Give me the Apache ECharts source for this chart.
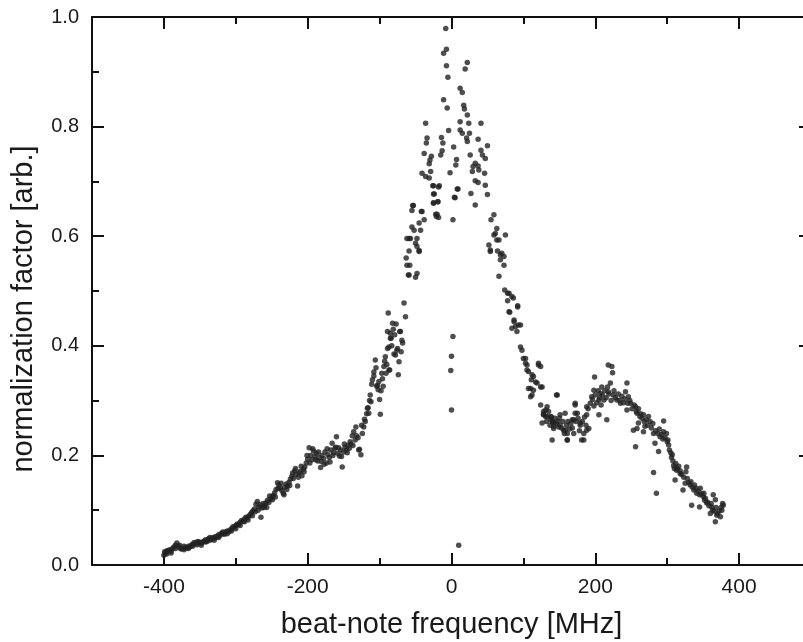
<!DOCTYPE html>
<html>
<head>
<meta charset="utf-8">
<script src="https://cdn.jsdelivr.net/npm/echarts@6/dist/echarts.min.js"></script>
<style>html,body{margin:0;padding:0;background:#fff;overflow:hidden;}#c{width:803px;height:642px;}</style>
</head>
<body>
<div id="c"></div>
<script>
// x tick labels / ticks
var xMajorTicks = [-400, -200, 0, 200, 400];
var xMinorTicks = [-300, -100, 100, 300];
var yTicks = [0, 0.2, 0.4, 0.6, 0.8, 1.0];

// left wing (beat-note frequency MHz, normalization factor)
var wingLeft = [
[-400,0.018],[-399,0.024],[-398,0.022],[-396,0.020],[-394,0.026],[-392,0.028],[-390,0.025],[-388,0.030],[-386,0.033],[-384,0.036],[-382,0.040],[-380,0.034],[-378,0.031],[-376,0.029],[-374,0.030],[-372,0.028],[-370,0.032],[-368,0.031],[-366,0.034],[-364,0.033],[-362,0.036],[-360,0.038],[-358,0.041],[-356,0.039],[-354,0.037],[-352,0.043],[-350,0.040],[-348,0.036],[-346,0.042],[-344,0.044],[-342,0.046],[-340,0.043],[-338,0.048],[-336,0.045],[-334,0.047],[-332,0.050],[-330,0.049],[-328,0.052],[-326,0.051],[-324,0.055],[-322,0.054],[-320,0.058],[-318,0.057],[-316,0.056],[-314,0.060],[-312,0.062],[-310,0.060],[-308,0.064],[-306,0.066],[-304,0.070],[-302,0.069],[-300,0.072],[-298,0.075],[-296,0.074],[-294,0.078],[-292,0.081],[-290,0.080],[-288,0.084],[-286,0.087],[-284,0.086],[-282,0.089],[-280,0.092],[-278,0.096],[-276,0.099],[-274,0.102],[-272,0.111],[-270,0.116],[-268,0.106],[-266,0.110],[-264,0.104],[-262,0.112],[-260,0.108],[-258,0.113],[-256,0.118],[-254,0.114],[-252,0.120],[-250,0.124],[-248,0.127],[-246,0.132],[-244,0.138],[-242,0.150],[-240,0.146],[-238,0.140],[-236,0.136],[-234,0.131],[-232,0.142],[-230,0.148],[-228,0.144],[-226,0.151],[-224,0.157],[-222,0.162],[-220,0.158],[-218,0.172],[-216,0.165],[-214,0.144],[-212,0.168],[-210,0.171],[-208,0.163],[-206,0.175],[-204,0.179],[-202,0.186],[-200,0.193],[-198,0.214],[-196,0.200],[-194,0.192],[-192,0.208],[-190,0.198],[-188,0.204],[-186,0.190],[-184,0.196],[-182,0.178],[-180,0.200],[-178,0.194],[-176,0.206],[-174,0.186],[-172,0.201],[-170,0.196],[-168,0.210],[-166,0.222],[-164,0.205],[-162,0.213],[-160,0.234],[-158,0.204],[-156,0.199],[-154,0.210],[-152,0.179],[-150,0.206],[-148,0.215],[-146,0.210],[-144,0.218],[-142,0.213],[-140,0.221],[-138,0.236],[-136,0.243],[-134,0.228],[-132,0.236],[-130,0.232],[-128,0.211],[-126,0.201],[-124,0.240],[-122,0.252],[-120,0.262],[-118,0.276],[-116,0.287],[-114,0.300],[-112,0.298],[-110,0.338],[-108,0.352],[-106,0.374],[-104,0.326],[-102,0.320],[-100,0.302],[-99,0.275],[-98,0.318],[-96,0.340],[-94,0.362],[-92,0.380],[-90,0.366],[-89,0.395],[-88,0.460],[-87,0.398],[-86,0.356],[-85,0.423],[-84,0.414],[-82,0.441],[-80,0.385],[-78,0.383],[-76,0.392],[-74,0.347],[-73,0.371],[-72,0.426],[-70,0.389],[-68,0.405],[-66,0.478],[-64,0.453]
];
var wingLeft2 = [
[-396,0.026],[-390,0.022],[-384,0.030],[-378,0.036],[-372,0.034],[-366,0.030],[-360,0.034],[-354,0.042],[-348,0.040],[-342,0.042],[-336,0.050],[-330,0.045],[-324,0.050],[-318,0.060],[-312,0.057],[-306,0.062],[-300,0.066],[-294,0.072],[-288,0.079],[-283,0.082],[-277,0.090],[-273,0.097],[-269,0.100],[-265,0.087],[-261,0.105],[-257,0.105],[-253,0.126],[-249,0.119],[-245,0.124],[-241,0.140],[-237,0.149],[-233,0.128],[-229,0.138],[-225,0.145],[-221,0.168],[-217,0.176],[-213,0.160],[-209,0.180],[-205,0.170],[-201,0.200],[-197,0.186],[-193,0.212],[-189,0.192],[-185,0.206],[-181,0.189],[-177,0.184],[-173,0.212],[-169,0.188],[-165,0.200],[-161,0.215],[-157,0.214],[-153,0.198],[-149,0.221],[-145,0.205],[-141,0.225],[-137,0.218],[-133,0.252],[-129,0.210],[-125,0.255],[-121,0.266],[-117,0.286],[-115,0.277],[-113,0.310],[-111,0.330],[-108,0.345],[-105,0.360],[-103,0.328],[-101,0.335],[-97,0.350],[-95,0.326],[-93,0.372],[-91,0.350],[-89,0.426],[-87,0.356],[-85,0.414],[-83,0.400],[-81,0.430],[-79,0.420],[-77,0.440],[-75,0.395],[-71,0.426],[-69,0.410]
];
// central peak
var peak = [
[-60,0.529],[-48,0.532],[-50,0.525],[-62,0.547],[-63,0.560],[-59,0.573],[-45,0.572],[-50,0.587],[-59,0.596],[-48,0.596],[-52,0.611],[-55,0.617],[-43,0.611],[-45,0.624],[-38,0.630],[-41,0.645],[-55,0.647],[-53,0.656],[-57,0.596],[-62,0.596],[-58,0.547],[-59,0.529],[-48,0.581],[-45,0.574],[-42,0.645],[-54,0.656],
[-8,0.979],[-7,0.941],[-11,0.934],[22,0.917],[19,0.905],[-7,0.911],[-5,0.890],[12,0.870],[15,0.862],[-11,0.849],[-6,0.834],[17,0.839],[18,0.832],[22,0.821],[-36,0.806],[12,0.809],[24,0.806],[41,0.806],[-4,0.793],[12,0.794],[15,0.788],[25,0.788],[-34,0.779],[-14,0.780],[21,0.779],[22,0.773],[37,0.777],[-35,0.770],[-12,0.770],[3,0.763],[50,0.765],[41,0.757],[-38,0.751],[-13,0.756],[-15,0.748],[26,0.748],[43,0.748],[47,0.742],[-28,0.746],[-30,0.739],[7,0.740],[-31,0.732],[6,0.730],[33,0.733],[30,0.727],[37,0.728],[-29,0.718],[29,0.718],[38,0.721],[46,0.715],[-2,0.716],[-41,0.715],[-36,0.709],[-31,0.706],[33,0.701],[37,0.698],[-25,0.692],[-18,0.690],[47,0.693],[9,0.686],[-25,0.677],[27,0.678],[50,0.676],[5,0.670],[-25,0.661],[-19,0.663],[33,0.657],[-21,0.636],[-18,0.634],[2,0.630],[-20,0.640],[-22,0.640],[-25,0.660],[-19,0.663],[-24,0.677],[4,0.671],[-26,0.692],[-17,0.692],[8,0.686]
];
// isolated low points near zero detuning
var dipPoints = [[2,0.417],[0,0.381],[-1,0.355],[0,0.283],[10,0.036]];
// right side: descending branch, hump, tail
var wingRight = [
[59,0.639],[55,0.630],[63,0.614],[61,0.605],[75,0.602],[63,0.593],[52,0.584],[54,0.575],[64,0.573],[68,0.566],[73,0.563],[73,0.547],[66,0.527],[59,0.602],[66,0.593],[54,0.572],[70,0.569],[68,0.557],
[74,0.502],[78,0.496],[80,0.496],[84,0.490],[86,0.487],[78,0.482],[92,0.473],[92,0.471],[81,0.461],[80,0.462],[87,0.444],[87,0.447],[89,0.435],[93,0.438],[96,0.438],[84,0.432],[91,0.426],[96,0.398],[98,0.392],[100,0.377],[103,0.377],[103,0.368],[105,0.365],[105,0.356],[121,0.365],[121,0.368],[107,0.353],[112,0.347],[114,0.344],[111,0.338],[117,0.334],[119,0.332],[107,0.322],[110,0.322],[114,0.319],[124,0.325],[110,0.307],[112,0.310],[147,0.310],[124,0.292],[128,0.280],[131,0.271],[131,0.283],[133,0.271],[126,0.259],[138,0.265],[140,0.262],[142,0.253],[142,0.249],[140,0.228],[151,0.255],[158,0.277],[156,0.246],[161,0.240],[161,0.228],[172,0.295],[172,0.277],[179,0.259],[184,0.228],[188,0.246],[170,0.265],
[124,0.362],[126,0.325],[133,0.289],[128,0.274],[138,0.271],[146,0.310],[142,0.259],[151,0.274],[149,0.252],[158,0.246],[161,0.228],[168,0.265],[172,0.292],[175,0.277],[179,0.255],[181,0.228],[184,0.240],[188,0.274],[191,0.249],[188,0.289],[195,0.307],[198,0.319],[199,0.343],[205,0.301],[205,0.274],[207,0.313],[209,0.325],[212,0.301],[216,0.265],[218,0.365],[223,0.362],[224,0.351],[221,0.332],[218,0.316],[225,0.310],[230,0.301],[235,0.295],[244,0.332],[242,0.316],[246,0.307],[244,0.283],[249,0.295],[256,0.289],[258,0.277],[262,0.271],[267,0.274],[274,0.271],[260,0.259],[258,0.249],[253,0.246],[269,0.253],[267,0.243],[281,0.240],[283,0.222],[290,0.234],[295,0.263],[295,0.243],[300,0.225],[302,0.219],[307,0.201],[256,0.216],[288,0.207],[281,0.169],[285,0.131],[310,0.176],[313,0.173],[318,0.167],[327,0.179],[311,0.155],[325,0.149],[322,0.137],[332,0.146],[337,0.137],[341,0.131],[346,0.140],[351,0.131],[334,0.109],[345,0.106],[353,0.122],[355,0.113],[364,0.128],[367,0.119],[362,0.106],[360,0.094],[369,0.091],[367,0.079],[376,0.100],[378,0.109],[374,0.088],
[128,0.275],[132,0.262],[135,0.280],[137,0.255],[139,0.270],[141,0.262],[144,0.268],[146,0.258],[148,0.262],[150,0.268],[153,0.250],[155,0.262],[157,0.240],[160,0.255],[162,0.262],[164,0.248],[166,0.258],[168,0.250],[170,0.240],[173,0.262],[176,0.268],[178,0.245],[182,0.262],[185,0.270],[187,0.255],[190,0.285],[193,0.295],[196,0.302],[198,0.290],[200,0.310],[202,0.296],[204,0.318],[206,0.305],[208,0.292],[210,0.310],[213,0.318],[215,0.305],[217,0.325],[219,0.312],[222,0.300],[226,0.318],[228,0.305],[232,0.312],[234,0.300],[237,0.308],[239,0.296],[241,0.303],[245,0.295],[248,0.300],[251,0.285],[254,0.292],[257,0.280],[260,0.285],[263,0.276],[265,0.268],[268,0.262],[271,0.265],[273,0.255],[276,0.262],[278,0.250],[280,0.258],[284,0.245],[287,0.240],[289,0.248],[292,0.238],[294,0.230],[297,0.232],[299,0.240],[301,0.228],[303,0.210],[305,0.205],[306,0.196],[308,0.190],[309,0.181],[312,0.185],[314,0.176],[316,0.180],[318,0.172],[320,0.165],[323,0.160],[326,0.170],[328,0.158],[330,0.150],[333,0.152],[335,0.142],[338,0.146],[340,0.140],[343,0.135],[345,0.128],[348,0.130],[350,0.125],[352,0.118],[356,0.115],[358,0.108],[361,0.112],[363,0.100],[365,0.098],[368,0.105],[370,0.094],[372,0.098],[375,0.105],[377,0.112]
];

var chart = echarts.init(document.getElementById('c'), null, {renderer: 'canvas'});
var FONT = '"Liberation Sans", Arial, sans-serif';
var lineStyle = {color: '#111', width: 2};
function xAx(pos, ticks, len, showLine, showLabel) {
  return {
    type: 'value', position: pos, min: -500, max: 500,
    axisLine: {show: showLine, onZero: false, lineStyle: lineStyle},
    axisTick: {show: true, inside: true, length: len, customValues: ticks, lineStyle: {color: '#111', width: 2}},
    axisLabel: {show: showLabel, customValues: ticks, fontSize: 21, fontFamily: FONT, color: '#1a1a1a', margin: 12},
    splitLine: {show: false}
  };
}
function yAx(pos, showLabel) {
  return {
    type: 'value', position: pos, min: 0, max: 1, interval: 0.2,
    axisLine: {show: true, onZero: false, lineStyle: lineStyle},
    axisTick: {show: true, inside: true, length: 12, lineStyle: {color: '#111', width: 2}},
    minorTick: {show: true, splitNumber: 2, length: 7, lineStyle: {color: '#111', width: 2}},
    axisLabel: {show: showLabel, fontSize: 20, fontFamily: FONT, color: '#1a1a1a', margin: 13,
      formatter: function (v) { return v.toFixed(1); }},
    splitLine: {show: false}, minorSplitLine: {show: false}
  };
}
var xMain = xAx('bottom', xMajorTicks, 12, true, true);
xMain.name = 'beat-note frequency [MHz]';
xMain.nameLocation = 'middle';
xMain.nameGap = 45;
xMain.nameTextStyle = {fontSize: 29, fontFamily: FONT, color: '#1a1a1a'};
var yMain = yAx('left', true);
yMain.name = 'normalization factor [arb.]';
yMain.nameLocation = 'middle';
yMain.nameGap = 54;
yMain.nameTextStyle = {fontSize: 29, fontFamily: FONT, color: '#1a1a1a', padding: [0, 36, 0, 0]};

var symbolStyle = {color: '#222'};
function sc(data) {
  return {type: 'scatter', xAxisIndex: 0, yAxisIndex: 0, data: data, symbol: 'circle', symbolSize: 5.5,
    itemStyle: symbolStyle, silent: true, animation: false};
}
chart.setOption({
  animation: false,
  backgroundColor: '#fff',
  grid: {left: 92, top: 17, width: 719, height: 548, containLabel: false, outerBoundsMode: 'none'},
  xAxis: [
    xMain,
    xAx('bottom', xMinorTicks, 7, false, false),
    xAx('top', xMajorTicks, 12, true, false),
    xAx('top', xMinorTicks, 7, false, false)
  ],
  yAxis: [yMain, yAx('right', false)],
  series: [sc(wingLeft), sc(wingLeft2), sc(peak), sc(dipPoints), sc(wingRight)]
});
</script>
</body>
</html>
